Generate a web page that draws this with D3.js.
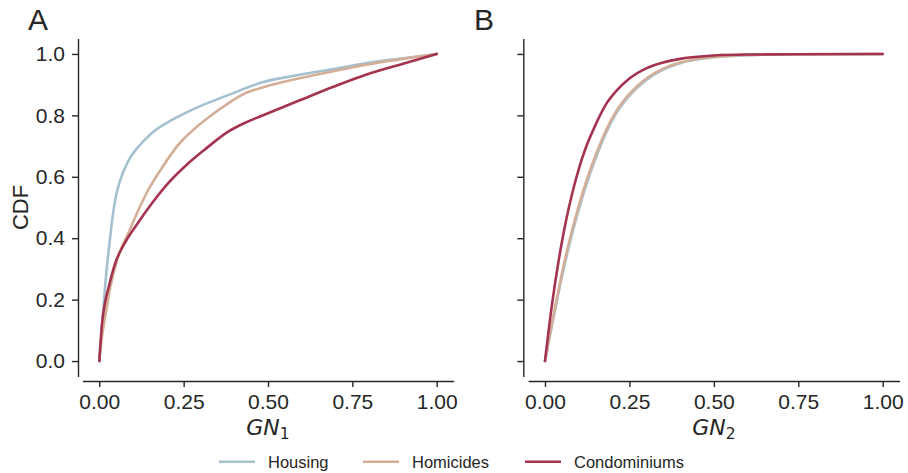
<!DOCTYPE html>
<html>
<head>
<meta charset="utf-8">
<script src="https://cdn.jsdelivr.net/npm/d3@7"></script>
<style>
  html, body { margin: 0; padding: 0; background: #ffffff; }
  svg { display: block; }
</style>
</head>
<body>
<svg id="chart" width="908" height="473"></svg>
<script>
// Series names and colours
const seriesNames = ["Housing", "Homicides", "Condominiums"];
const seriesColors = ["#a5c1cf", "#d4ae96", "#a3334f"];

// Panel A: cumulative distribution of GN1
const gn1HousingX = [0, 0.006, 0.012, 0.022, 0.032, 0.042, 0.05, 0.061, 0.086, 0.116, 0.155, 0.215, 0.284, 0.382, 0.481, 0.594, 0.70, 0.79, 0.90, 1.0];
const gn1HousingY = [0, 0.08, 0.17, 0.30, 0.40, 0.49, 0.54, 0.585, 0.652, 0.698, 0.742, 0.785, 0.823, 0.866, 0.907, 0.932, 0.952, 0.97, 0.986, 1.0];

const gn1HomicidesX = [0, 0.007, 0.02, 0.032, 0.056, 0.086, 0.116, 0.145, 0.185, 0.234, 0.284, 0.333, 0.382, 0.432, 0.481, 0.594, 0.70, 0.79, 0.90, 1.0];
const gn1HomicidesY = [0, 0.07, 0.16, 0.237, 0.34, 0.416, 0.492, 0.557, 0.628, 0.704, 0.758, 0.801, 0.839, 0.872, 0.89, 0.921, 0.945, 0.965, 0.984, 1.0];

const gn1CondoX = [0, 0.008, 0.017, 0.027, 0.047, 0.076, 0.116, 0.155, 0.205, 0.264, 0.313, 0.382, 0.432, 0.491, 0.594, 0.694, 0.792, 0.90, 1.0];
const gn1CondoY = [0, 0.12, 0.19, 0.237, 0.318, 0.385, 0.452, 0.512, 0.58, 0.644, 0.689, 0.747, 0.776, 0.803, 0.849, 0.893, 0.933, 0.968, 1.0];

// Panel B: cumulative distribution of GN2
const gn2X = [0, 0.02, 0.04, 0.06, 0.08, 0.10, 0.12, 0.15, 0.18, 0.21, 0.25, 0.30, 0.35, 0.40, 0.50, 0.60, 0.75, 1.0];
const gn2HousingY = [0, 0.112, 0.222, 0.322, 0.413, 0.493, 0.566, 0.66, 0.741, 0.805, 0.864, 0.915, 0.949, 0.97, 0.989, 0.996, 0.999, 1.0];
const gn2HomicidesY = [0, 0.12, 0.232, 0.335, 0.425, 0.505, 0.578, 0.67, 0.75, 0.812, 0.87, 0.92, 0.952, 0.972, 0.99, 0.997, 0.999, 1.0];
const gn2CondoY = [0, 0.178, 0.324, 0.445, 0.543, 0.625, 0.692, 0.77, 0.835, 0.878, 0.92, 0.953, 0.972, 0.984, 0.995, 0.998, 0.999, 1.0];

const xTicks = [0, 0.25, 0.5, 0.75, 1.0];
const yTicks = [0, 0.2, 0.4, 0.6, 0.8, 1.0];

const panels = [
  {
    letter: "A", sub: "1", showYLabels: true, letterX: 28,
    xRange: [82.4, 453.6], ySpineX: 78,
    series: [
      { x: gn1HousingX, y: gn1HousingY },
      { x: gn1HomicidesX, y: gn1HomicidesY },
      { x: gn1CondoX, y: gn1CondoY }
    ]
  },
  {
    letter: "B", sub: "2", showYLabels: false, letterX: 474,
    xRange: [528.1, 899.6], ySpineX: 523.3,
    series: [
      { x: gn2X, y: gn2HousingY },
      { x: gn2X, y: gn2HomicidesY },
      { x: gn2X, y: gn2CondoY }
    ]
  }
];

const ink = "#262626";
const tickFont = "'Liberation Sans', Arial, sans-serif";
const svg = d3.select("#chart");

const y = d3.scaleLinear().domain([-0.05, 1.05]).range([376.4, 38.6]);
const xAxisY = 381;

panels.forEach((p) => {
  const x = d3.scaleLinear().domain([-0.05, 1.05]).range(p.xRange);

  // y axis (left spine, offset from the plotting area)
  const yAxis = d3.axisLeft(y).tickValues(yTicks).tickSize(6).tickSizeOuter(0).tickPadding(7)
    .tickFormat(p.showYLabels ? d3.format(".1f") : () => "");
  const gy = svg.append("g").attr("transform", `translate(${p.ySpineX},0)`).call(yAxis);

  // x axis (bottom spine, offset from the plotting area)
  const xAxis = d3.axisBottom(x).tickValues(xTicks).tickSize(6).tickSizeOuter(0).tickPadding(7)
    .tickFormat(d3.format(".2f"));
  const gx = svg.append("g").attr("transform", `translate(0,${xAxisY})`).call(xAxis);

  [gx, gy].forEach((g) => {
    g.select(".domain").attr("stroke", ink).attr("stroke-width", 1.4);
    g.selectAll(".tick line").attr("stroke", ink).attr("stroke-width", 1.4);
    g.selectAll(".tick text").attr("fill", ink).style("font-family", tickFont).style("font-size", "21px");
  });

  // CDF curves
  const line = d3.line()
    .x((d) => x(d[0]))
    .y((d) => y(d[1]))
    .curve(d3.curveMonotoneX);

  p.series.forEach((s, i) => {
    const pts = s.x.map((v, k) => [v, s.y[k]]);
    svg.append("path")
      .datum(pts)
      .attr("d", line)
      .attr("fill", "none")
      .attr("stroke", seriesColors[i])
      .attr("stroke-width", 2.6)
      .attr("stroke-linejoin", "round")
      .attr("stroke-linecap", "round");
  });

  // x-axis label: italic GN with upright subscript
  const cx = (p.xRange[0] + p.xRange[1]) / 2;
  const lbl = svg.append("text")
    .attr("x", cx).attr("y", 435)
    .attr("text-anchor", "middle")
    .attr("fill", ink)
    .style("font-family", "'DejaVu Sans', sans-serif")
    .style("font-size", "22px");
  lbl.append("tspan").style("font-style", "italic").text("GN");
  lbl.append("tspan").attr("dy", 4).style("font-size", "15.5px").text(p.sub);

  // panel letter
  svg.append("text")
    .attr("x", p.letterX).attr("y", 30)
    .attr("fill", ink)
    .style("font-family", tickFont)
    .style("font-size", "30px")
    .text(p.letter);
});

// y-axis title
svg.append("text")
  .attr("transform", `translate(28,${(y(-0.05) + y(1.05)) / 2}) rotate(-90)`)
  .attr("text-anchor", "middle")
  .attr("fill", ink)
  .style("font-family", tickFont)
  .style("font-size", "22px")
  .text("CDF");

// legend
const legendLineX = [219, 363, 525];
const legend = svg.append("g");
seriesNames.forEach((name, i) => {
  legend.append("line")
    .attr("x1", legendLineX[i]).attr("x2", legendLineX[i] + 36)
    .attr("y1", 461.7).attr("y2", 461.7)
    .attr("stroke", seriesColors[i]).attr("stroke-width", 2.6);
  legend.append("text")
    .attr("x", legendLineX[i] + 49).attr("y", 467.5)
    .attr("fill", ink)
    .style("font-family", tickFont)
    .style("font-size", "16.5px")
    .text(name);
});
</script>
</body>
</html>
